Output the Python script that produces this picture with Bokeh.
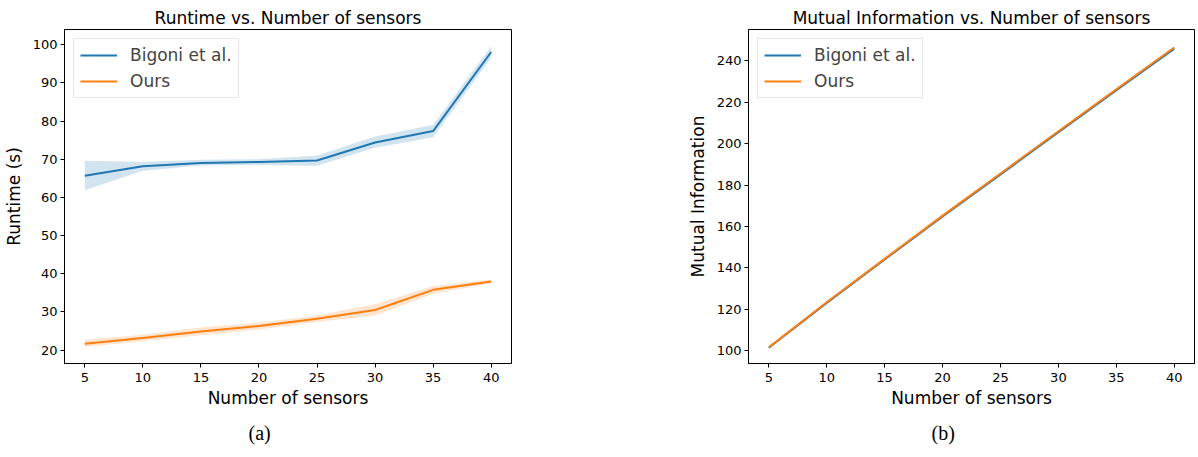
from bokeh.plotting import figure
from bokeh.models import Range1d, FixedTicker, Legend, LegendItem, Title
from bokeh.layouts import row
from bokeh.embed import file_html
from bokeh.resources import INLINE

sensors = [5, 10, 15, 20, 25, 30, 35, 40]

bigoni_runtime = [65.7, 68.2, 69.0, 69.3, 69.7, 74.4, 77.4, 98.1]
bigoni_runtime_lo = [61.9, 67.0, 68.4, 68.5, 68.3, 73.0, 75.8, 96.6]
bigoni_runtime_hi = [69.6, 69.3, 69.9, 70.0, 71.0, 76.0, 79.0, 99.6]

ours_runtime = [21.7, 23.2, 24.9, 26.3, 28.2, 30.5, 35.8, 38.0]
ours_runtime_lo = [20.8, 22.4, 23.9, 25.4, 27.4, 29.1, 34.8, 37.5]
ours_runtime_hi = [22.7, 24.0, 25.9, 27.2, 29.1, 32.0, 36.8, 38.5]

bigoni_mi = [101.3, 123.0, 144.0, 164.8, 185.1, 205.6, 225.9, 245.9]
bigoni_mi_lo = [100.9, 122.5, 143.4, 164.1, 184.4, 204.9, 225.1, 245.0]
bigoni_mi_hi = [101.7, 123.5, 144.6, 165.5, 185.8, 206.3, 226.7, 246.8]

ours_mi = [101.5, 123.3, 144.3, 165.2, 185.6, 206.0, 226.3, 246.5]
ours_mi_lo = [101.2, 123.0, 144.0, 164.9, 185.3, 205.7, 226.0, 246.2]
ours_mi_hi = [101.8, 123.6, 144.6, 165.5, 185.9, 206.3, 226.6, 246.8]

x_ticks = [5, 10, 15, 20, 25, 30, 35, 40]
runtime_ticks = [20, 30, 40, 50, 60, 70, 80, 90, 100]
mi_ticks = [100, 120, 140, 160, 180, 200, 220, 240]

BLUE = "#1f77b4"
ORANGE = "#ff7f0e"
FONT = "DejaVu Sans"


def make_panel(title, ylabel, yr, yticks, series, caption, width, border_left, frame_w, cap_offset):
    frame_h = 334
    height = 457
    top = 29
    p = figure(width=width, height=height, output_backend="svg", toolbar_location=None,
               x_range=Range1d(3.25, 41.75), y_range=Range1d(*yr),
               min_border_left=border_left, min_border_right=width - border_left - frame_w,
               min_border_top=top, min_border_bottom=height - top - frame_h)
    p.title.text = title
    p.title.text_font = FONT
    p.title.text_font_size = "17px"
    p.title.text_font_style = "normal"
    p.title.align = "center"
    p.title.standoff = 4
    p.title.text_color = "black"
    p.background_fill_color = "white"
    p.border_fill_color = "white"
    p.outline_line_color = "black"
    p.outline_line_alpha = 1
    p.outline_line_width = 1
    p.xgrid.visible = False
    p.ygrid.visible = False
    p.xaxis.ticker = FixedTicker(ticks=x_ticks)
    p.yaxis.ticker = FixedTicker(ticks=yticks)
    for ax in (p.xaxis[0], p.yaxis[0]):
        ax.axis_line_color = "black"
        ax.major_tick_line_color = "black"
        ax.major_tick_in = 0
        ax.major_tick_out = 4
        ax.minor_tick_in = 0
        ax.minor_tick_out = 0
        ax.major_label_text_font = FONT
        ax.major_label_text_font_size = "13px"
        ax.major_label_text_color = "black"
        ax.axis_label_text_font = FONT
        ax.axis_label_text_font_size = "17px"
        ax.axis_label_text_font_style = "normal"
        ax.axis_label_text_color = "black"
        ax.major_label_standoff = 3
        ax.axis_label_standoff = 6
    p.xaxis.major_label_standoff = 5
    p.xaxis.axis_label_standoff = 3
    p.xaxis.axis_label = "Number of sensors"
    p.yaxis.axis_label = ylabel

    items = []
    for name, color, y, lo, hi in series:
        p.varea(x=sensors, y1=lo, y2=hi, fill_color=color, fill_alpha=0.2)
        r = p.line(sensors, y, line_color=color, line_width=2)
        items.append(LegendItem(label=name, renderers=[r]))
    leg = Legend(items=items, location="top_left", margin=9, padding=6,
                 label_text_font=FONT, label_text_font_size="17px",
                 glyph_width=37, glyph_height=20, label_height=20,
                 label_standoff=13, spacing=6,
                 border_line_color="#cccccc", border_line_width=1,
                 background_fill_color="white", background_fill_alpha=0.8)
    p.add_layout(leg)

    cap = Title(text=caption, text_font="Liberation Serif", text_font_size="20px",
                text_font_style="normal", align="left", offset=cap_offset,
                vertical_align="top", standoff=23, text_color="black")
    p.add_layout(cap, "below")
    return p


p1 = make_panel("Runtime vs. Number of sensors", "Runtime (s)", (16.5, 104.0), runtime_ticks,
                [("Bigoni et al.", BLUE, bigoni_runtime, bigoni_runtime_lo, bigoni_runtime_hi),
                 ("Ours", ORANGE, ours_runtime, ours_runtime_lo, ours_runtime_hi)],
                "(a)", 600, 64, 447, 184)
p2 = make_panel("Mutual Information vs. Number of sensors", "Mutual Information", (93.7, 255.2), mi_ticks,
                [("Bigoni et al.", BLUE, bigoni_mi, bigoni_mi_lo, bigoni_mi_hi),
                 ("Ours", ORANGE, ours_mi, ours_mi_lo, ours_mi_hi)],
                "(b)", 598, 148, 446, 183)

layout = row(p1, p2)
open("out.html", "w").write(file_html(layout, INLINE))
